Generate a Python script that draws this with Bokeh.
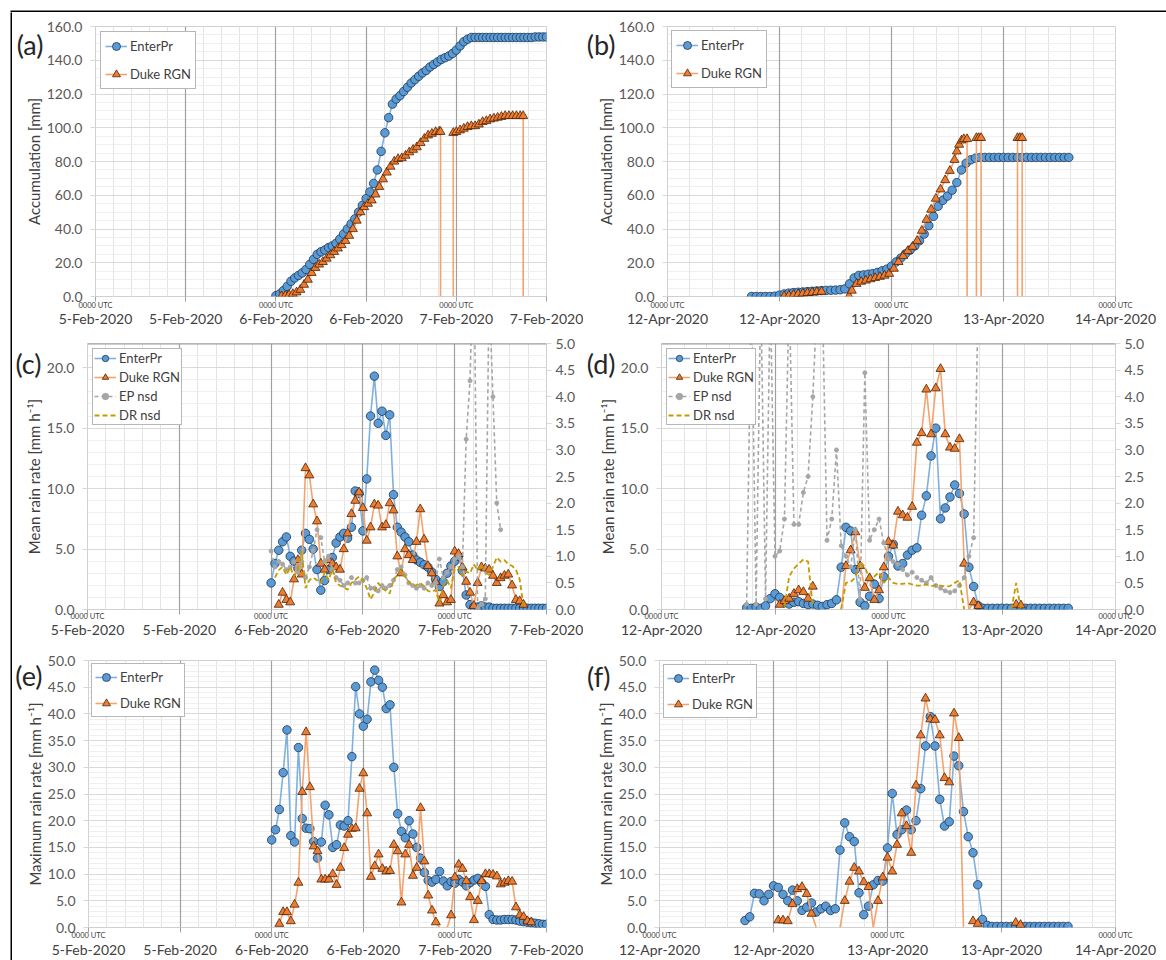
import math
from bokeh.plotting import figure
from bokeh.models import (Range1d, LinearAxis, FixedTicker, PrintfTickFormatter, Legend,
                          LegendItem, Span, Grid)
from bokeh.layouts import column, row
from bokeh.embed import file_html
from bokeh.resources import INLINE

nan = float("nan")

# ---------------- axis ticks / labels ----------------
FEB_TICKS = [0, 12, 24, 36, 48, 60]          # hours after 5-Feb-2020 0000 UTC
FEB_DATES = ["5-Feb-2020", "5-Feb-2020", "6-Feb-2020", "6-Feb-2020", "7-Feb-2020", "7-Feb-2020"]
APR_TICKS = [0, 12, 24, 36, 48]              # hours after 12-Apr-2020 0000 UTC
APR_DATES = ["12-Apr-2020", "12-Apr-2020", "13-Apr-2020", "13-Apr-2020", "14-Apr-2020"]
UTC_LABEL = "0000 UTC"

ACC_TICKS = [0, 20, 40, 60, 80, 100, 120, 140, 160]
MEAN_TICKS = [0, 5, 10, 15, 20]
NSD_TICKS = [0.0, 0.5, 1.0, 1.5, 2.0, 2.5, 3.0, 3.5, 4.0, 4.5, 5.0]
MAX_TICKS = [0, 5, 10, 15, 20, 25, 30, 35, 40, 45, 50]

SERIES = ["EnterPr", "Duke RGN", "EP nsd", "DR nsd"]

# ---------------- (a) accumulation, Feb event ----------------
ep_acc_feb_t0 = 24.0
ep_acc_feb = [0.5, 1.5, 3.5, 6, 9, 11, 12.5, 14, 16, 19,
              22, 25, 26.5, 27.5, 29, 30, 31.5, 34, 37, 40,
              43, 46, 50, 54, 58, 62, 67, 75, 86, 97,
              106, 114, 117, 119, 121.5, 124, 126.5, 128.5, 130.5, 132.5,
              134, 136, 137.5, 139, 140.5, 141.5, 142.5, 144, 146, 148.5,
              151, 152.5, 153.5, 153.5, 153.5, 153.5, 153.5, 153.5, 153.5, 153.5,
              153.5, 153.5, 153.5, 153.5, 153.5, 153.5, 153.5, 153.5, 153.5, 153.8,
              153.8, 153.8, 153.8]
dk_acc_feb_hours = [24.75, 25.25, 25.75, 26.25, 26.75, 27.25, 27.75, 28.25, 28.75, 29.25,
                    29.75, 30.25, 30.75, 31.25, 31.75, 32.25, 32.75, 33.25, 33.75, 34.25,
                    34.75, 35.25, 35.75, 36.25, 36.75, 37.25, 37.75, 38.25, 38.75, 39.25,
                    39.75, 40.25, 40.75, 41.25, 41.75, 42.25, 42.75, 43.25, 43.75, 44.25,
                    44.75, 45.25, 45.75, 45.9, 45.9, 46.0, 47.6, 47.6, 48.0, 48.5,
                    49.0, 49.5, 50.0, 50.5, 51.0, 51.5, 52.0, 52.5, 53.0, 53.5,
                    54.0, 54.5, 55.0, 55.5, 56.0, 56.5, 56.9, 56.9]
dk_acc_feb = [0.3, 0.5, 1, 1.5, 2.5, 4, 7, 10, 14, 17,
              19, 20.5, 22.5, 24.5, 26.5, 28.5, 30.5, 33, 36, 40,
              45, 50, 53, 55, 57, 60.5, 65, 69.5, 73.5, 77,
              80, 81.5, 82, 83.5, 85.5, 87, 88.5, 91, 93.5, 95.5,
              96.5, 97.5, 97.8, 97.6, 0, nan, 0, 97, 97.5, 98.5,
              99.5, 100.5, 101, 101, 102, 103.5, 104, 105, 105.5, 106,
              106.5, 107, 107, 107, 107, 107, 107, 0]

# ---------------- (b) accumulation, Apr event ----------------
ep_acc_apr_t0 = 9.0
ep_acc_apr = [0, 0, 0, 0, 0, 0.2, 0.8, 1.5, 2.0, 2.3,
              2.5, 2.7, 2.9, 3.1, 3.3, 3.5, 3.6, 3.7, 3.8, 4.0,
              4.5, 7.5, 11.0, 12.5, 12.8, 13.2, 13.6, 14.3, 15.2, 16.2,
              18.0, 20.5, 22.8, 25.3, 27.5, 30.0, 33.0, 37.0, 42.0, 47.5,
              53.5, 57.0, 59.5, 63.0, 67.5, 75.0, 79.0, 81.0, 82.0, 82.4,
              82.4, 82.4, 82.4, 82.4, 82.4, 82.4, 82.4, 82.4, 82.4, 82.4,
              82.4, 82.4, 82.4, 82.4, 82.4, 82.4, 82.4, 82.4, 82.4]
dk_acc_apr_hours = [12.5, 13.0, 13.5, 14.0, 14.5, 15.0, 15.5, 16.0, 16.5, 16.6,
                    19.45, 19.75, 20.25, 20.75, 21.25, 21.75, 22.25, 22.75, 23.25, 23.75,
                    24.25, 24.75, 25.25, 25.75, 26.25, 26.75, 27.25, 27.75, 28.25, 28.75,
                    29.25, 29.75, 30.25, 30.75, 31.0, 31.25, 31.5, 31.75, 32.1, 32.1,
                    32.6, 33.1, 33.1, 33.35, 33.6, 33.6, 35.0, 37.5, 37.5, 37.75,
                    38.0, 38.0]
dk_acc_apr = [0.2, 0.6, 1.0, 1.4, 1.8, 2.1, 2.4, 2.7, 2.9, nan,
              0.3, 3.5, 7.5, 8.8, 9.5, 10.3, 11.0, 11.7, 12.4, 13.5,
              16.5, 20.5, 24, 27, 29.5, 33, 39, 45.5, 51.5, 58,
              63.5, 69, 74.5, 81, 86, 90, 92.5, 93.3, 93.3, 0,
              nan, 0, 94, 94, 94, 0, nan, 0, 94, 94,
              94, 0]

# ---------------- (c) mean rain rate, Feb ----------------
ep_mean_feb_t0 = 24.0
ep_mean_feb = [2.2, 3.8, 4.9, 5.6, 6.0, 4.4, 4.0, 3.4, 4.9, 6.3,
               5.8, 5.0, 3.3, 1.6, 2.4, 3.3, 4.3, 5.5, 6.0, 6.3,
               5.9, 6.8, 9.8, 9.6, 6.5, 10.8, 16.0, 19.3, 15.4, 16.4,
               14.4, 16.1, 9.5, 6.8, 6.4, 6.0, 5.6, 4.5, 4.1, 3.9,
               3.7, 3.5, 3.1, 2.5, 1.9, 2.3, 3.0, 3.6, 4.0, 4.4,
               3.2, 1.2, 0.4, 0.2, 0.2, 0.3, 0.2, 0.2, 0.1, 0.1,
               0.1, 0.1, 0.1, 0.1, 0.1, 0.1, 0.1, 0.1, 0.1, 0.1,
               0.1, 0.1, 0.1]
dk_mean_feb_t0 = 25.0
dk_mean_feb = [0.4, 1.4, 0.8, 0.6, 2.5, 4.1, 2.9, 11.7, 11.1, 8.7,
               7.3, 3.8, 3.3, 4.1, 3.8, 3.5, 3.3, 5.0, 6.3, 7.9,
               9.0, 9.7, 8.4, 5.7, 6.8, 8.7, 8.6, 6.8, 7.0, 8.8,
               8.2, 4.4, 3.0, 5.0, 4.5, 4.1, 5.6, 8.3, 5.8, 3.6,
               3.0, 2.3, 0.5, 1.2, 0.6, 0.8, 4.8, 4.6, 3.5, 2.3,
               1.4, 0.3, 2.2, 3.5, 3.4, 3.3, 2.8, 2.2, 2.6, 2.8,
               2.9, 2.0, 0.8, 0.7, 0.4]
epnsd_feb_t0 = 24.0
epnsd_feb = [1.1, 0.8, 0.9, 0.85, 0.75, 0.8, 0.9, 0.7, 0.9, 0.6,
             0.8, 1.1, 1.5, 1.35, 0.9, 1.0, 0.75, 0.6, 0.55, 0.45,
             0.5, 0.6, 0.5, 0.5, 0.55, 0.6, 0.4, 0.4, 0.35, 0.45,
             0.4, 0.45, 0.55, 0.75, 0.8, 0.65, 0.5, 0.45, 0.4, 0.45,
             0.4, 0.5, 0.45, 0.5, 0.95, 0.6, 0.7, 0.8, 0.95, 1.0,
             0.8, 3.2, 4.3, 7.0, 0.0, 0.1, 0.2, 6.0, 4.0, 2.0,
             1.5]
drnsd_feb_t0 = 24.5
drnsd_feb = [0.6, 0.74, 0.8, 0.65, 0.8, 0.62, 0.75, 1.1, 0.4, 0.55,
             0.6, 0.55, 0.5, 0.7, 0.55, 0.75, 0.5, 0.45, 0.42, 0.37,
             0.5, 0.56, 0.62, 0.55, 0.4, 0.19, 0.32, 0.5, 0.4, 0.35,
             0.3, 0.55, 0.65, 0.74, 0.62, 0.52, 0.45, 0.46, 0.5, 0.44,
             0.35, 0.33, 0.37, 0.13, 0.45, 0.55, 0.4, 0.76, 0.8, 0.62,
             0.72, 0.68, 0.85, 0.74, 0.85, 0.7, 0.65, 0.8, 0.98, 0.9,
             0.93, 0.85, 0.82, 0.75, 0.56, 0.05]

# ---------------- (d) mean rain rate, Apr ----------------
ep_mean_apr_t0 = 9.0
ep_mean_apr = [0.15, 0.1, 0.2, 0.1, 0.3, 0.9, 1.3, 1.0, 0.55, 0.45,
               0.6, 0.65, 0.5, 0.4, 0.45, 0.35, 0.25, 0.4, 0.5, 0.8,
               3.5, 6.8, 6.5, 3.3, 0.6, 0.3, 1.1, 2.1, 0.9, 2.7,
               4.4, 5.4, 3.6, 3.8, 4.5, 4.9, 5.1, 7.8, 9.4, 12.7,
               15.0, 7.5, 8.4, 9.3, 10.3, 9.6, 7.9, 3.5, 1.9, 0.3,
               0.1, 0.1, 0.1, 0.1, 0.1, 0.1, 0.1, 0.1, 0.1, 0.1,
               0.1, 0.1, 0.1, 0.1, 0.1, 0.1, 0.1, 0.1, 0.1]
dk_mean_apr_t0 = 12.5
dk_mean_apr = [0.4, 0.7, 0.9, 1.3, 1.6, 1.45, 0.9, 1.9,
               nan, nan, nan, nan, nan, 0.0,
               3.6, 4.9, 6.4, 3.6, 1.8, 2.6, 0.8, 1.6, 3.5, 5.6,
               5.3, 8.1, 7.8, 7.6, 8.5, 13.8, 14.6, 18.2, 14.5, 18.3,
               19.9, 14.5, 13.4, 13.3, 14.1, 3.8, 0.0, 0.6, 0.3,
               nan, nan, nan, nan, nan, nan, nan, 0.4, 0.35]
epnsd_apr_t0 = 9.0
epnsd_apr = [0.1, 6.0, 0.1, 6.0, 0.2, 6.0, 1.0, 1.1, 1.7, 6.0,
             1.6, 1.6, 2.2, 2.5, 4.0, 6.0, 6.0, 1.3, 1.7, 3.0,
             1.2, 1.0, 0.8, 1.5, 0.2, 4.45, 1.3, 1.5, 1.7, 1.25,
             0.95, 0.9, 0.85, 0.75, 0.65, 0.7, 0.6, 0.55, 0.5, 0.6,
             0.45, 0.4, 0.35, 0.32, 0.35, 0.45, 0.6, 1.0, 1.35, 6.0]
drnsd_apr_t0 = 13.0
drnsd_apr = [0.05, 0.62, 0.77, 0.86, 0.94, 0.9, 0.05,
             nan, nan, nan, nan, nan, 0.0,
             0.5, 0.52, 0.6, 0.9, 0.8, 0.57, 0.62, 0.7, 0.5, 0.6,
             0.5, 0.48, 0.48, 0.5, 0.47, 0.45, 0.45, 0.47, 0.44, 0.46,
             0.45, 0.43, 0.44, 0.5, 0.55, 0.0,
             nan, nan, nan, nan, nan, nan, nan, nan, nan, 0.0, 0.5, 0.0]

# ---------------- (e) maximum rain rate, Feb ----------------
ep_max_feb_t0 = 24.0
ep_max_feb = [16.4, 18.3, 22.1, 29.0, 37.0, 17.2, 16.0, 33.7, 20.4, 18.6,
              18.5, 16.1, 13.0, 16.0, 22.9, 21.1, 15.0, 15.5, 19.2, 19.0,
              20.0, 32.0, 45.1, 40.0, 37.7, 39.0, 46.0, 48.2, 46.3, 45.0,
              41.0, 41.7, 30.0, 21.3, 18.0, 16.8, 20.0, 17.5, 15.0, 13.0,
              10.3, 8.8, 8.5, 9.0, 10.5, 8.7, 7.8, 8.6, 8.3, 9.0,
              8.5, 7.8, 8.4, 8.9, 9.2, 8.4, 7.7, 2.4, 1.5, 1.4,
              1.4, 1.5, 1.5, 1.5, 1.4, 1.2, 1.1, 1.0, 0.9, 0.8,
              0.7, 0.6, 0.6]
dk_max_feb_t0 = 25.0
dk_max_feb = [0.7, 2.9, 2.9, 1.2, 4.3, 8.4, 25.4, 36.6, 26.3, 15.2,
              14.3, 9.0, 9.0, 9.0, 10.0, 8.0, 11.2, 14.9, 17.4, 18.5,
              18.6, 26.0, 28.9, 21.4, 9.5, 11.5, 13.7, 11.0, 10.5, 10.6,
              15.5, 14.3, 4.7, 13.7, 15.5, 9.7, 11.2, 22.4, 12.4, 6.0,
              3.2, 1.0, 0.0, nan, 0.0, 2.3, 9.4, 11.8, 11.0, 8.7,
              5.7, 1.4, 5.0, 8.7, 10.0, 10.0, 9.9, 9.6, 8.1, 8.4,
              8.7, 8.6, 3.8, 2.3, 2.0, 1.2, 1.0]

# ---------------- (f) maximum rain rate, Apr ----------------
ep_max_apr_t0 = 9.0
ep_max_apr = [1.3, 2.0, 6.4, 6.3, 5.0, 6.2, 7.8, 7.5, 6.2, 5.0,
              7.0, 5.0, 3.2, 3.8, 4.6, 2.9, 3.5, 4.0, 3.2, 3.5,
              14.5, 19.6, 17.0, 16.1, 6.5, 2.4, 4.0, 8.0, 8.8, 8.7,
              14.9, 25.1, 17.4, 18.3, 22.0, 18.3, 20.0, 26.0, 34.0, 39.5,
              34.0, 24.0, 19.0, 19.8, 32.1, 30.3, 21.7, 17.0, 14.0, 8.0,
              1.5, 0.4, 0.2, 0.2, 0.2, 0.2, 0.2, 0.2, 0.2, 0.2,
              0.2, 0.2, 0.2, 0.2, 0.2, 0.2, 0.2, 0.2, 0.2]
dk_max_apr_t0 = 12.5
dk_max_apr = [1.35, 1.35, 1.2, 4.4, 7.2, 7.6, 6.3, 2.6,
              0.0, nan, nan, nan, nan, 0.0,
              5.0, 8.6, 11.2, 10.5, 8.5, 7.6, 0.0, 5.0, 9.4, 13.1,
              10.5, 15.5, 21.4, 19.0, 14.0, 26.6, 36.0, 42.9, 39.0, 38.9,
              36.0, 28.0, 27.2, 40.1, 35.5, 0.0, nan, 1.2, 0.7,
              nan, nan, nan, nan, nan, nan, nan, 0.9, 0.5]

# ---------------- styling ----------------
FONT = "Lato"
EP_FILL, EP_LINE, EP_EDGE = "#5b9bd5", "#7fb0e0", "#1e3550"
DK_FILL, DK_LINE, DK_EDGE = "#ed7d31", "#f4a36c", "#4d2208"
NSD_GRAY, NSD_GOLD = "#a6a6a6", "#c49a00"
XMAJ, XMIN, YMAJ, YMIN = "#a0a0a0", "#e4e4e4", "#d9d9d9", "#efefef"


def hours(t0, vals, step=0.5):
    return [t0 + step * i for i in range(len(vals))]


def bar(w, h, left=0, top=0, color="black"):
    b = figure(width=w, height=h, min_border_left=left, min_border_top=top,
               min_border_right=0, min_border_bottom=0, title=None,
               x_axis_type=None, y_axis_type=None, output_backend="svg", toolbar_location=None)
    b.background_fill_color = color
    b.border_fill_color = "white"
    b.outline_line_color = None
    return b


def make_panel(w, h, fl, fr, ft, fb, ticks, dates, yticks, yminor, ymax, ylabel,
               s_utc, s_date, letter, letter_y, s_letter, nsd=False):
    xmax = ticks[-1]
    p = figure(width=w, height=h, min_border_left=fl, min_border_right=w - fr,
               min_border_top=ft, min_border_bottom=h - fb, title=None,
               x_range=Range1d(0, xmax), y_range=Range1d(0, ymax),
               x_axis_type=None, y_axis_type=None,
               output_backend="svg", toolbar_location=None)
    p.outline_line_color = "#d0d0d0"
    p.background_fill_color = "white"
    p.border_fill_color = "white"
    minor_x = [round(2.4 * i, 2) for i in range(int(xmax / 2.4) + 1)]
    p.add_layout(Grid(dimension=0, ticker=FixedTicker(ticks=[], minor_ticks=minor_x),
                      grid_line_color=None, minor_grid_line_color=XMIN))
    p.add_layout(Grid(dimension=1, ticker=FixedTicker(ticks=yticks, minor_ticks=yminor),
                      grid_line_color=YMAJ, minor_grid_line_color=YMIN))
    p.add_layout(Grid(dimension=0, ticker=FixedTicker(ticks=ticks),
                      grid_line_color=XMAJ, grid_line_width=1.2))
    utc_over = {t: (UTC_LABEL if t % 24 == 0 else "") for t in ticks}
    date_over = {t: d for t, d in zip(ticks, dates)}
    ax_utc = LinearAxis(ticker=FixedTicker(ticks=ticks), major_label_overrides=utc_over,
                        axis_line_color=None, major_tick_line_color=XMAJ, major_tick_out=5,
                        major_tick_in=0, minor_tick_line_color=None,
                        major_label_standoff=s_utc, major_label_text_font=FONT,
                        major_label_text_font_size="7.5px", major_label_text_color="#404040")
    p.add_layout(ax_utc, "below")
    ax_date = LinearAxis(ticker=FixedTicker(ticks=ticks), major_label_overrides=date_over,
                         axis_line_color=None, major_tick_line_color=None, major_tick_out=0,
                         major_tick_in=0, minor_tick_line_color=None,
                         major_label_standoff=s_date, major_label_text_font=FONT,
                         major_label_text_font_size="14px", major_label_text_color="#404040")
    p.add_layout(ax_date, "below")
    ay = LinearAxis(ticker=FixedTicker(ticks=yticks), formatter=PrintfTickFormatter(format="%.1f"),
                    axis_label=ylabel, axis_line_color=None, major_tick_line_color=YMAJ,
                    major_tick_out=5, major_tick_in=0, minor_tick_line_color=None,
                    major_label_standoff=8, major_label_text_font=FONT,
                    major_label_text_font_size="14px", major_label_text_color="#595959",
                    axis_label_standoff=1, axis_label_text_font=FONT,
                    axis_label_text_font_size="15px", axis_label_text_font_style="normal",
                    axis_label_text_color="#404040")
    p.add_layout(ay, "left")
    # panel letter, shown as the only label of an outer left axis in pixel units
    p.extra_y_ranges = {"letter": Range1d(0, fb - ft)}
    lt = fb - letter_y
    lax = LinearAxis(y_range_name="letter", ticker=FixedTicker(ticks=[lt]),
                     major_label_overrides={lt: letter}, axis_line_color=None,
                     major_tick_line_color=None, major_tick_out=0, major_tick_in=0,
                     minor_tick_line_color=None, major_label_standoff=s_letter,
                     major_label_text_font=FONT, major_label_text_font_size="27px",
                     major_label_text_color="#262626")
    p.add_layout(lax, "left")
    if nsd:
        p.extra_y_ranges["nsd"] = Range1d(0, 5)
        ar = LinearAxis(y_range_name="nsd", ticker=FixedTicker(ticks=NSD_TICKS),
                        formatter=PrintfTickFormatter(format="%.1f"), axis_line_color=None,
                        major_tick_line_color=YMAJ, major_tick_out=5, major_tick_in=0,
                        minor_tick_line_color=None, major_label_standoff=4,
                        major_label_text_font=FONT, major_label_text_font_size="14px",
                        major_label_text_color="#595959")
        p.add_layout(ar, "right")
        p.add_layout(Span(location=ymax, dimension="width", line_color="#9a9a9a", line_width=2))
    return p


def draw_ep(p, t, v):
    ln = p.line(t, v, line_color=EP_LINE, line_width=1.6)
    pts = [(a, b) for a, b in zip(t, v) if not math.isnan(b)]
    sc = p.scatter([a for a, _ in pts], [b for _, b in pts], marker="circle", size=8.5,
                   fill_color=EP_FILL, line_color=EP_EDGE, line_width=0.8)
    return [ln, sc]


def draw_dk(p, t, v):
    ln = p.line(t, v, line_color=DK_LINE, line_width=1.6)
    pts = [(a, b) for a, b in zip(t, v) if not math.isnan(b) and b > 0]
    sc = p.scatter([a for a, _ in pts], [b for _, b in pts], marker="triangle", size=9,
                   fill_color=DK_FILL, line_color=DK_EDGE, line_width=0.8)
    return [ln, sc]


def draw_epnsd(p, t, v):
    ln = p.line(t, v, line_color=NSD_GRAY, line_width=1.6, line_dash="4 3", y_range_name="nsd")
    pts = [(a, b) for a, b in zip(t, v) if not math.isnan(b)]
    sc = p.scatter([a for a, _ in pts], [b for _, b in pts], marker="circle", size=4,
                   fill_color=NSD_GRAY, line_color=NSD_GRAY, y_range_name="nsd")
    return [ln, sc]


def draw_drnsd(p, t, v):
    ln = p.line(t, v, line_color=NSD_GOLD, line_width=1.8, line_dash="5 3", y_range_name="nsd")
    return [ln]


def add_legend(p, items, gh, spacing, padding, margin):
    leg = Legend(items=[LegendItem(label=lab, renderers=r) for lab, r in items],
                 location="top_left", margin=margin, padding=padding, spacing=spacing,
                 glyph_width=22, glyph_height=gh, label_height=gh, label_standoff=3,
                 label_text_font=FONT, label_text_font_size="13px", label_text_color="#404040",
                 border_line_color="#707070", border_line_width=1.3, background_fill_color="white",
                 background_fill_alpha=1.0)
    p.add_layout(leg)


ACC_MINOR = [5 * i for i in range(33)]
MEAN_MINOR = [i for i in range(23)]
MAX_MINOR = [i for i in range(51)]
MEAN_LABEL = "Mean rain rate [mm h\u207b\u00b9]"
MAX_LABEL = "Maximum rain rate [mm h\u207b\u00b9]"

# (a)
pa = make_panel(571, 318, 83, 534, 14, 284, FEB_TICKS, FEB_DATES, ACC_TICKS, ACC_MINOR, 160,
                "Accumulation [mm]", -1, -3, "(a)", 32, -22)
ra = draw_ep(pa, hours(ep_acc_feb_t0, ep_acc_feb), ep_acc_feb)
rb = draw_dk(pa, dk_acc_feb_hours, dk_acc_feb)
add_legend(pa, [(SERIES[0], ra), (SERIES[1], rb)], 20, 8, 4, 5)

# (b)
pb = make_panel(583, 318, 84, 532, 14, 284, APR_TICKS, APR_DATES, ACC_TICKS, ACC_MINOR, 160,
                "Accumulation [mm]", -1, -3, "(b)", 32, -22)
ra = draw_ep(pb, hours(ep_acc_apr_t0, ep_acc_apr), ep_acc_apr)
rb = draw_dk(pb, dk_acc_apr_hours, dk_acc_apr)
add_legend(pb, [(SERIES[0], ra), (SERIES[1], rb)], 20, 8, 4, 4)

# (c)
pc = make_panel(571, 308, 75, 534, 11, 282, FEB_TICKS, FEB_DATES, MEAN_TICKS, MEAN_MINOR, 22,
                MEAN_LABEL, -3, -3, "(c)", 31, -20, nsd=True)
ra = draw_ep(pc, hours(ep_mean_feb_t0, ep_mean_feb), ep_mean_feb)
rb = draw_dk(pc, hours(dk_mean_feb_t0, dk_mean_feb), dk_mean_feb)
rc = draw_epnsd(pc, hours(epnsd_feb_t0, epnsd_feb), epnsd_feb)
rd = draw_drnsd(pc, hours(drnsd_feb_t0, drnsd_feb), drnsd_feb)
add_legend(pc, [(SERIES[0], ra), (SERIES[1], rb), (SERIES[2], rc), (SERIES[3], rd)], 16, 3, 1, 5)

# (d)
pd = make_panel(583, 308, 76, 532, 11, 282, APR_TICKS, APR_DATES, MEAN_TICKS, MEAN_MINOR, 22,
                MEAN_LABEL, -3, -3, "(d)", 31, -20, nsd=True)
ra = draw_ep(pd, hours(ep_mean_apr_t0, ep_mean_apr), ep_mean_apr)
rb = draw_dk(pd, hours(dk_mean_apr_t0, dk_mean_apr), dk_mean_apr)
rc = draw_epnsd(pd, hours(epnsd_apr_t0, epnsd_apr), epnsd_apr)
rd = draw_drnsd(pd, hours(drnsd_apr_t0, drnsd_apr), drnsd_apr)
add_legend(pd, [(SERIES[0], ra), (SERIES[1], rb), (SERIES[2], rc), (SERIES[3], rd)], 16, 3, 1, 5)

# (e)
pe = make_panel(571, 318, 75, 534, 18, 289, FEB_TICKS, FEB_DATES, MAX_TICKS, MAX_MINOR, 50,
                MAX_LABEL, -2, -2, "(e)", 33, -20)
ra = draw_ep(pe, hours(ep_max_feb_t0, ep_max_feb), ep_max_feb)
rb = draw_dk(pe, hours(dk_max_feb_t0, dk_max_feb), dk_max_feb)
add_legend(pe, [(SERIES[0], ra), (SERIES[1], rb)], 20, 6, 3, 3)

# (f)
pf = make_panel(583, 318, 76, 532, 18, 289, APR_TICKS, APR_DATES, MAX_TICKS, MAX_MINOR, 50,
                MAX_LABEL, -2, -2, "(f)", 34, -17)
ra = draw_ep(pf, hours(ep_max_apr_t0, ep_max_apr), ep_max_apr)
rb = draw_dk(pf, hours(dk_max_apr_t0, dk_max_apr), dk_max_apr)
add_legend(pf, [(SERIES[0], ra), (SERIES[1], rb)], 20, 6, 3, 4)

# outer black frame (top and left) and grey separators between the rows
top_bar = bar(1166, 12, left=10, top=10, color="black")
left_bar = bar(12, 948, left=10, top=0, color="black")
sep1 = bar(1154, 2, color="#d9d9d9")
sep2 = bar(1154, 2, color="#d9d9d9")

panels = column(row(pa, pb), sep1, row(pc, pd), sep2, row(pe, pf))
layout = column(top_bar, row(left_bar, panels))
open("out.html", "w").write(file_html(layout, INLINE))
